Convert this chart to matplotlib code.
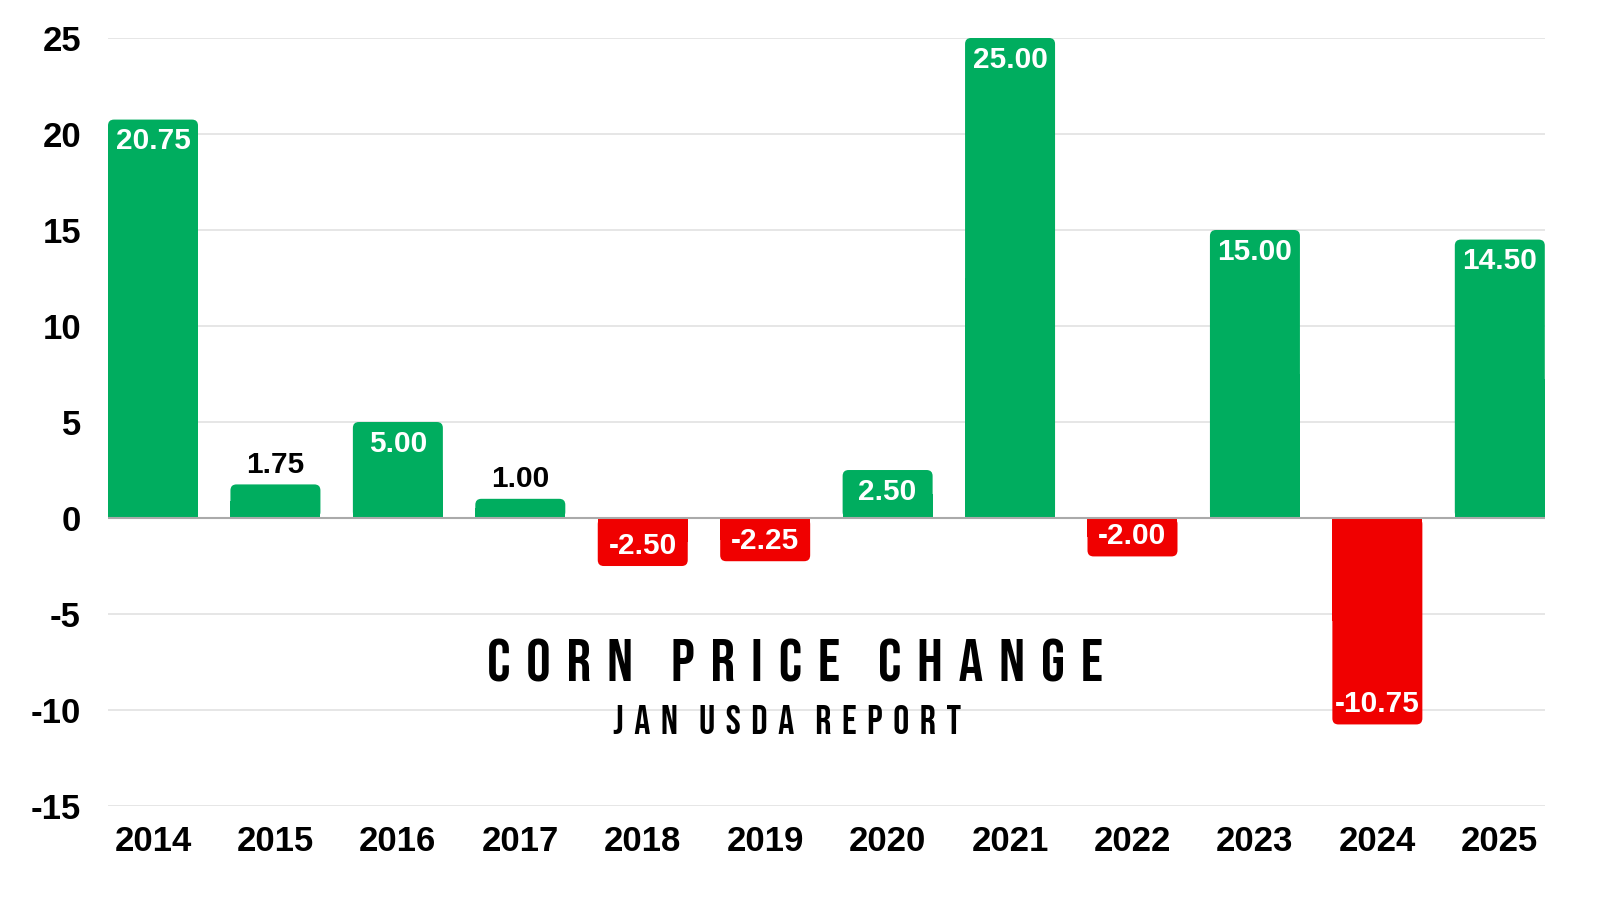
import matplotlib
matplotlib.use('Agg')
import matplotlib.pyplot as plt
from matplotlib.patches import FancyBboxPatch, Rectangle

years = ['2014', '2015', '2016', '2017', '2018', '2019',
         '2020', '2021', '2022', '2023', '2024', '2025']
change = [20.75, 1.75, 5.00, 1.00, -2.50, -2.25,
          2.50, 25.00, -2.00, 15.00, -10.75, 14.50]
yticks = [-15, -10, -5, 0, 5, 10, 15, 20, 25]
title = 'CORN PRICE CHANGE'
subtitle = 'JAN USDA REPORT'

green = '#00ad5f'
red = '#f00000'
title_font = ['Bebas Neue', 'DejaVu Sans']

plt.rcParams['font.family'] = ['Liberation Sans', 'DejaVu Sans']

fig = plt.figure(figsize=(16, 9), dpi=100)
ax = fig.add_axes([0.0675, 0.1044, 0.898, 0.8534])

w = 0.735
ax.set_xlim(-w / 2, len(years) - 1 + w / 2)
ax.set_ylim(-15, 25)

# px per data unit, used to keep rounded corners circular
px_x = 0.898 * 1600 / (len(years) - 1 + w)
px_y = 0.8534 * 900 / 40.0
rad = 6.0 / px_x

for i, v in enumerate(change):
    col = green if v >= 0 else red
    x0 = i - w / 2
    y0 = min(0, v)
    p = FancyBboxPatch((x0, y0), w, abs(v),
                       boxstyle='round,pad=0,rounding_size=%f' % rad,
                       mutation_aspect=px_x / px_y,
                       fc=col, ec='none', zorder=3)
    ax.add_patch(p)
    # square off the corners at zero
    h = abs(v) / 2
    ax.add_patch(Rectangle((x0, 0 if v >= 0 else -h), w, h,
                           fc=col, ec='none', zorder=3))

    txt = '%.2f' % v
    if abs(v) >= 2:
        off = -15.5 if v >= 0 else 14.5
        tc = 'white'
    else:
        off = 14
        tc = 'black'
    ax.annotate(txt, (i, v), xytext=(0, off), textcoords='offset points',
                ha='center', va='center', fontsize=21.5, fontweight='bold',
                color=tc, zorder=5)

for y in yticks:
    if y == 0:
        continue
    ax.axhline(y, color='#e2e2e2', lw=1.2, zorder=1)
ax.axhline(0, color='#aaaaaa', lw=1.5, zorder=4)

ax.set_yticks(yticks)
ax.set_yticklabels([str(t) for t in yticks])
ax.set_xticks(range(len(years)))
ax.set_xticklabels(years)
ax.tick_params(axis='both', length=0, labelsize=25)
ax.tick_params(axis='y', pad=19.5)
ax.tick_params(axis='x', pad=14)
for lab in ax.get_xticklabels() + ax.get_yticklabels():
    lab.set_fontweight('bold')
for s in ax.spines.values():
    s.set_visible(False)

# letter-spaced titles: pick gap strings so the width matches the reference
rend = fig.canvas.get_renderer()


def text_w(s, size):
    t = fig.text(0, 0, s, fontsize=size, family=title_font)
    wd = t.get_window_extent(rend).width
    t.remove()
    return wd


def spaced(s, size, target, ratio=2.4):
    base = text_w('AA', size)
    best = None
    for a in range(0, 4):
        for b in range(0, 6):
            gi = ' ' * a + '\u200a' * b
            if not gi:
                continue
            for c in range(0, 6):
                for d in range(0, 4):
                    gw = gi * 2 + ' ' * c + '\u200a' * d
                    s2 = gw.join(gi.join(word) for word in s.split(' '))
                    wi = text_w('A' + gi + 'A', size) - base
                    ww = text_w('A' + gw + 'A', size) - base
                    err = (text_w(s2, size) - target) ** 2 + 0.5 * (ww - ratio * wi) ** 2
                    if best is None or err < best[0]:
                        best = (err, s2)
    return best[1]


fig.text(795 / 1600, 1 - 660 / 900, spaced(title, 44, 612), ha='center', va='center',
         fontsize=44, family=title_font)
fig.text(787 / 1600, 1 - 720 / 900, spaced(subtitle, 29, 350), ha='center', va='center',
         fontsize=29, family=title_font)

fig.savefig('out.png', dpi=100)
